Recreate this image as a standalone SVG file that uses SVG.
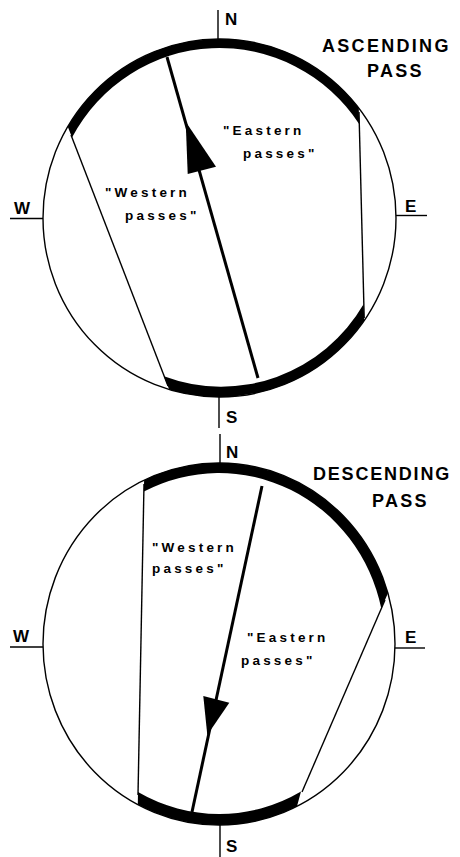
<svg xmlns="http://www.w3.org/2000/svg" width="460" height="857" viewBox="0 0 460 857">
<style>
.ring{fill:none;stroke:#000;stroke-width:1.4}
.band{fill:#000;stroke:none}
.thin{stroke:#000;stroke-width:1.4;fill:none}
.thick{stroke:#000;stroke-width:3;fill:none}
.tick{stroke:#000;stroke-width:1.4}
.head{fill:#000}
.cmp{font-family:"Liberation Sans",Arial,sans-serif;font-size:17px;font-weight:bold;fill:#000}
.title{font-family:"Liberation Sans",Arial,sans-serif;font-size:18px;font-weight:bold;letter-spacing:2.3px;fill:#000}
.lbl{font-family:"Liberation Sans",Arial,sans-serif;font-size:13.5px;font-weight:bold;letter-spacing:3.2px;fill:#000}
</style>
<rect width="460" height="857" fill="#fff"/>
<g id="ascending">
  <ellipse class="ring" cx="219.5" cy="218" rx="176.5" ry="179"/>
  <path class="band" d="M 67.8 126.7 A 176.5 179 0 0 1 358.8 108 L 359.1 124 A 167.5 170 0 0 0 72 137.5 Z"/>
  <path class="band" d="M 364.2 320.5 A 176.5 179 0 0 1 169.2 389.5 L 163.9 376.3 A 165.5 168 0 0 0 363.7 304 Z"/>
  <g id="asc-tracks">
    <line class="thin" x1="71" y1="135" x2="168" y2="386"/>
    <line class="thin" x1="359" y1="112" x2="364.2" y2="318"/>
    <line class="thick" x1="167" y1="57" x2="258" y2="378"/>
    <polygon class="head" points="185.7,121.7 187.7,174 216,166.7"/>
  </g>
  <g id="asc-compass">
    <line class="tick" x1="218" y1="10" x2="218" y2="39"/>
    <line class="tick" x1="219" y1="397" x2="219" y2="428"/>
    <line class="tick" x1="10" y1="218.5" x2="43" y2="218.5"/>
    <line class="tick" x1="396" y1="215.5" x2="427" y2="215.5"/>
    <text class="cmp" x="225" y="25">N</text>
    <text class="cmp" x="226" y="423">S</text>
    <text class="cmp" x="14" y="214">W</text>
    <text class="cmp" x="405" y="212">E</text>
  </g>
  <text class="title" x="322" y="52">ASCENDING</text>
  <text class="title" x="367" y="77">PASS</text>
  <text class="lbl" x="223" y="135">"Eastern</text>
  <text class="lbl" x="243" y="158">passes"</text>
  <text class="lbl" x="105" y="197">"Western</text>
  <text class="lbl" x="125" y="220">passes"</text>
</g>
<g id="descending">
  <ellipse class="ring" cx="219" cy="644" rx="176" ry="181"/>
  <path class="band" d="M 144.1 480.2 A 176 181 0 0 1 387.9 593.3 L 381.3 608.6 A 166 171 0 0 0 143.9 491.5 Z"/>
  <path class="band" d="M 297 806.3 A 176 181 0 0 1 137.8 804.6 L 138 792.1 A 165 170 0 0 0 301 791.5 Z"/>
  <g id="desc-tracks">
    <line class="thin" x1="144" y1="484" x2="138" y2="795"/>
    <line class="thin" x1="385" y1="600" x2="302" y2="792"/>
    <line class="thick" x1="262" y1="486" x2="192" y2="812"/>
    <polygon class="head" points="203.3,696 229.3,702.7 207.3,735"/>
  </g>
  <g id="desc-compass">
    <line class="tick" x1="220" y1="434" x2="220" y2="463"/>
    <line class="tick" x1="220" y1="825" x2="220" y2="857"/>
    <line class="tick" x1="10" y1="647" x2="43" y2="647"/>
    <line class="tick" x1="395" y1="648" x2="425" y2="648"/>
    <text class="cmp" x="226" y="458">N</text>
    <text class="cmp" x="226" y="852">S</text>
    <text class="cmp" x="13" y="642">W</text>
    <text class="cmp" x="405" y="643">E</text>
  </g>
  <text class="title" x="313" y="480" style="letter-spacing:1.8px">DESCENDING</text>
  <text class="title" x="372" y="507">PASS</text>
  <text class="lbl" x="152" y="552">"Western</text>
  <text class="lbl" x="152" y="573">passes"</text>
  <text class="lbl" x="247" y="642">"Eastern</text>
  <text class="lbl" x="241" y="665">passes"</text>
</g>
</svg>
